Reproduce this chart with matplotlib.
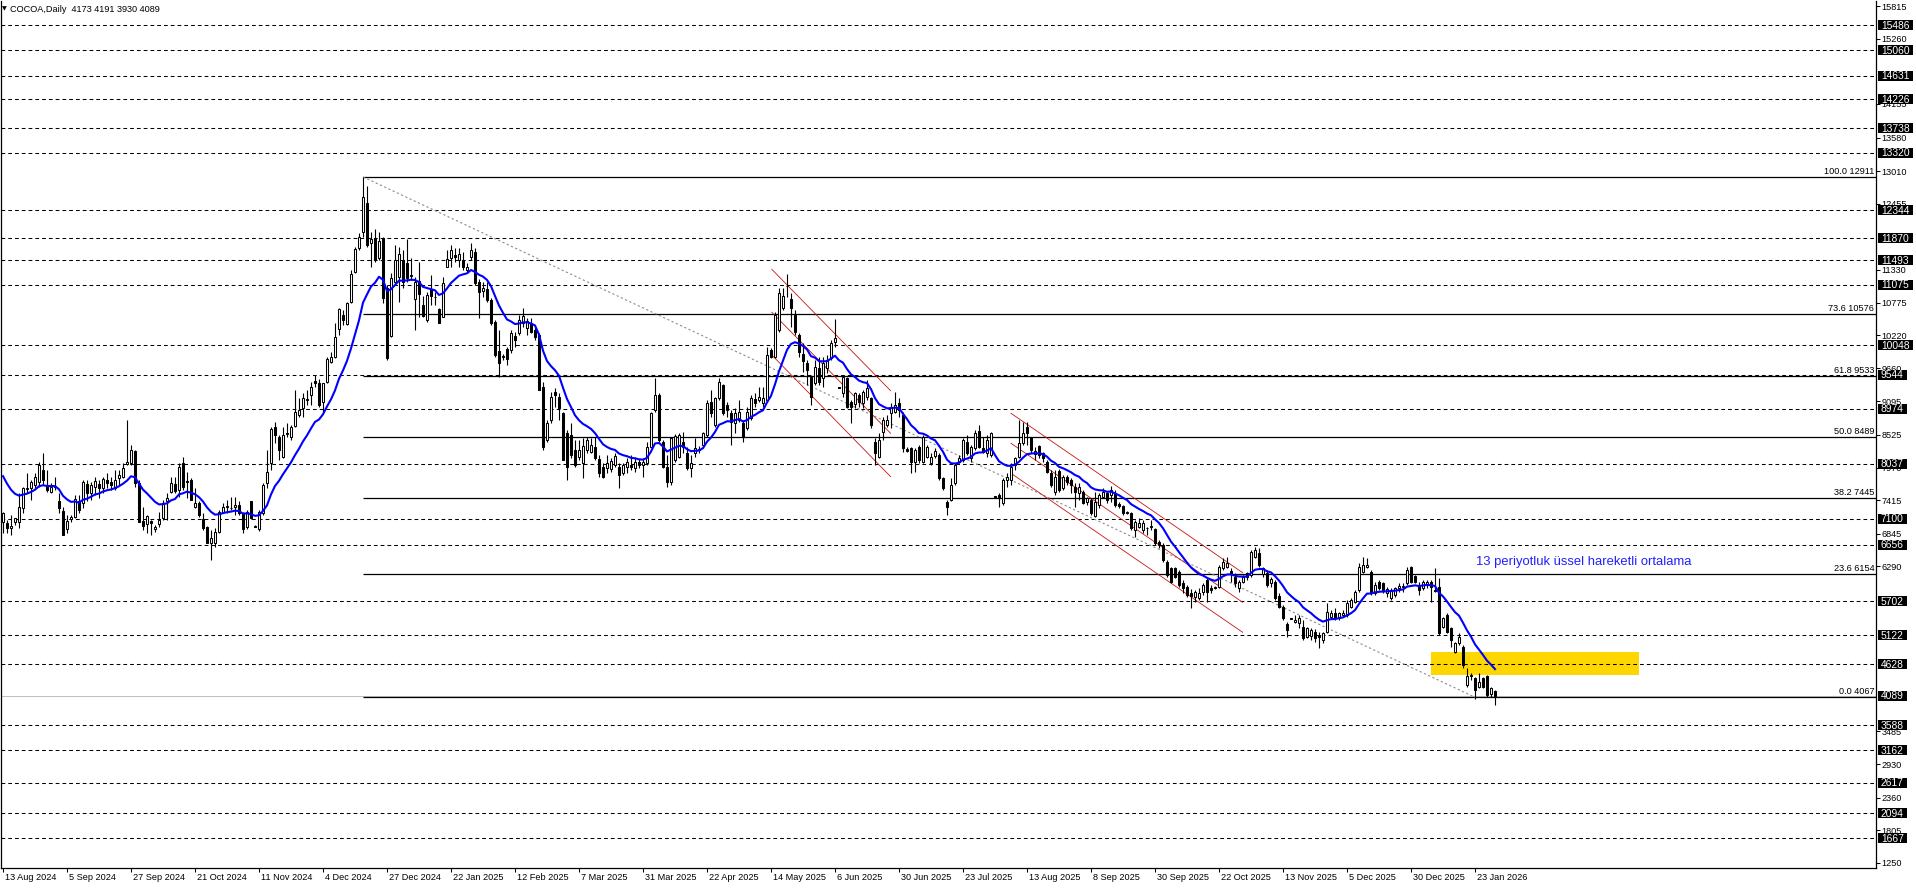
import matplotlib
matplotlib.use("Agg")
import matplotlib.pyplot as plt
import matplotlib.transforms as mtransforms
from matplotlib.patches import Rectangle
import numpy as np
import pandas as pd

plt.rcParams['font.family'] = ['Liberation Sans', 'DejaVu Sans']

# daily candles (bar 0 = 13 Aug 2024)
opens = [
    7052, 7023, 6950, 7052, 7052, 7278, 7610, 7618, 7675, 7731,
    7930, 7658, 7561, 7640, 7398, 7238, 6922, 7091, 7125, 7408,
    7363, 7692, 7544, 7646, 7692, 7618, 7760, 7731, 7618, 7788,
    7816, 8032, 8043, 8252, 7703, 7069, 7012, 7069, 6922, 7006,
    7108, 7398, 7561, 7692, 7590, 8043, 7740, 7760, 7306, 7363,
    7091, 6967, 6695, 6683, 6882, 7221, 7300, 7290, 7295, 7335,
    7204, 6967, 7398, 6975, 6922, 7193, 7703, 8043, 8666, 8496,
    8156, 8541, 8485, 8677, 8864, 8978, 9119, 9204, 9442, 9402,
    9091, 9430, 9770, 9855, 10320, 10563, 10411, 10790, 11300, 11696,
    11980, 12473, 11782, 11867, 11527, 11867, 11017, 10207, 11130, 11215,
    11499, 11453, 11240, 10830, 11147, 10734, 10479, 11000, 10870, 10660,
    10535, 11385, 11527, 11578, 11499, 11499, 11329, 11555, 11640, 11130,
    10977, 11000, 10819, 10451, 9952, 9860, 9980, 9969, 10207, 10252,
    10422, 10337, 10434, 10309, 10224, 9345, 8439, 8779, 9261, 9176,
    8892, 8552, 8524, 8269, 8156, 8043, 8269, 8241, 8326, 8111,
    7986, 7958, 7941, 8014, 7986, 7873, 7986, 8014, 7957, 8071,
    8014, 8042, 8314, 8949, 9204, 8411, 7986, 7731, 8099, 8156,
    8411, 8212, 7957, 8212, 8270, 8354, 8524, 9090, 8694, 9147,
    9374, 9034, 8903, 8722, 8779, 8733, 8637, 8807, 9130, 9119,
    9073, 9119, 9968, 9855, 10308, 10677, 11048, 10830, 10563, 10223,
    9900, 9753, 9515, 9402, 9657, 9487, 9657, 9827, 10110, 9340,
    9232, 9487, 9090, 9051, 9204, 9062, 9175, 9147, 8411, 8156,
    8581, 8694, 8892, 8920, 9062, 8864, 8280, 8297, 8071, 8326,
    8071, 8156, 8042, 8167, 8184, 7787, 7391, 7419, 7703, 8071,
    8099, 8411, 8128, 8298, 8598, 8298, 8213, 8184, 7480, 7505,
    7363, 7759, 7759, 8014, 8156, 8383, 8666, 8485, 8201, 8337,
    8213, 8071, 7873, 7561, 7918, 7618, 7816, 7759, 7646, 7533,
    7561, 7391, 7420, 7148, 7335, 7476, 7533, 7505, 7533, 7352,
    7318, 7221, 7193, 6910, 6966, 6910, 6945, 6955, 6921, 6711,
    6655, 6372, 6258, 6258, 6202, 6003, 5947, 5833, 5777, 5748,
    5862, 6060, 5918, 5947, 5947, 6258, 6287, 6219, 6117, 5918,
    6032, 6173, 6145, 6456, 6513, 6161, 6184, 6003, 6031, 5788,
    5595, 5312, 5412, 5351, 5334, 5266, 5096, 5108, 5181, 5125,
    5040, 5181, 5436, 5493, 5436, 5465, 5465, 5606, 5691, 5889,
    6201, 6286, 6201, 5833, 6031, 6003, 5833, 5748, 5804, 5918,
    5935, 6003, 6286, 6127, 5957, 5918, 5974, 6031, 5885, 5946,
    5266, 5465, 5238, 4841, 4983, 4926, 4275, 4428, 4388, 4247,
    4388, 4428, 4122, 4173,
]
highs = [
    7220, 7080, 7165, 7108, 7533, 7646, 7873, 7760, 7873, 8071,
    8213, 7930, 7703, 7816, 7533, 7306, 7165, 7165, 7505, 7505,
    7760, 7760, 7731, 7816, 7760, 7816, 7873, 7816, 7930, 7930,
    8043, 8779, 8355, 8269, 7760, 7306, 7165, 7080, 6995, 7221,
    7420, 7533, 7816, 7816, 8043, 8156, 7901, 7788, 7618, 7398,
    7193, 6978, 6910, 6939, 7249, 7363, 7420, 7476, 7476, 7398,
    7221, 7249, 7408, 6990, 7249, 7703, 8269, 8666, 8751, 8524,
    8666, 8723, 8694, 9289, 9159, 9233, 9289, 9430, 9544, 9470,
    9413, 9855, 9940, 10422, 10677, 10648, 10790, 11328, 11725, 11951,
    12911, 12756, 11980, 12020, 11980, 11884, 11074, 11272, 11753, 11725,
    11668, 11850, 11527, 11215, 11470, 10887, 10960, 11244, 10960, 10677,
    11204, 11668, 11753, 11697, 11697, 11640, 11442, 11782, 11697, 11170,
    11130, 11130, 10847, 10479, 10309, 9900, 10026, 10309, 10281, 10564,
    10677, 10507, 10507, 10366, 10252, 9430, 8779, 9261, 9317, 9232,
    8921, 8609, 8722, 8439, 8439, 8467, 8496, 8467, 8496, 8184,
    8043, 8184, 8128, 8212, 8043, 8043, 8127, 8184, 8156, 8110,
    8127, 8411, 8920, 9487, 9232, 8439, 8184, 8496, 8541, 8552,
    8581, 8326, 8184, 8467, 8340, 8581, 9119, 9289, 9175, 9487,
    9391, 9090, 8949, 8977, 9119, 8779, 9005, 9204, 9232, 9345,
    9345, 10025, 9997, 10620, 11017, 11017, 11260, 10932, 10648, 10252,
    10082, 9798, 9544, 9798, 9855, 9855, 9884, 10138, 10490, 9345,
    9544, 9515, 9119, 9260, 9232, 9289, 9459, 9175, 8467, 8552,
    8835, 8864, 9062, 9260, 9147, 8920, 8326, 8326, 8297, 8354,
    8524, 8354, 8212, 8297, 8212, 7816, 7419, 7787, 8043, 8184,
    8468, 8524, 8354, 8609, 8694, 8496, 8524, 8581, 7490, 7533,
    7788, 7873, 8043, 8156, 8779, 8751, 8751, 8496, 8326, 8354,
    8241, 8099, 7929, 7929, 7941, 7844, 7844, 7788, 7703, 7703,
    7589, 7476, 7448, 7561, 7533, 7618, 7561, 7658, 7589, 7391,
    7335, 7240, 7221, 7080, 7108, 7080, 6966, 7080, 6938, 6740,
    6683, 6400, 6287, 6287, 6230, 6060, 5975, 5901, 5890, 5918,
    6003, 6088, 5975, 5960, 6315, 6428, 6457, 6258, 6173, 6060,
    6145, 6202, 6570, 6626, 6598, 6286, 6229, 6105, 6060, 5833,
    5635, 5351, 5420, 5465, 5465, 5380, 5255, 5238, 5221, 5181,
    5181, 5663, 5550, 5578, 5521, 5550, 5719, 5748, 5889, 6343,
    6445, 6428, 6229, 6031, 6060, 6031, 5946, 5918, 5946, 6003,
    6003, 6286, 6297, 6144, 6031, 6060, 6060, 6060, 6258, 6088,
    5436, 5493, 5266, 5011, 5153, 4955, 4558, 4473, 4417, 4473,
    4417, 4445, 4247, 4191,
]
lows = [
    6853, 6853, 6825, 6995, 6939, 7193, 7533, 7420, 7618, 7646,
    7675, 7561, 7533, 7590, 7193, 6825, 6853, 7052, 7108, 7193,
    7278, 7398, 7420, 7505, 7448, 7533, 7618, 7590, 7590, 7675,
    7788, 8015, 8015, 7646, 7052, 6910, 6853, 6825, 6882, 6967,
    7080, 7080, 7533, 7533, 7476, 7590, 7448, 7420, 7278, 7136,
    6910, 6683, 6400, 6627, 6865, 7193, 7193, 7249, 7165, 7165,
    6865, 6922, 7091, 6960, 6899, 7165, 7618, 7930, 8383, 8100,
    8128, 8496, 8440, 8666, 8836, 8836, 9040, 9034, 9345, 9006,
    8892, 9402, 9742, 9827, 10224, 10394, 10394, 10773, 11283, 11668,
    11895, 11725, 11385, 11470, 11499, 10762, 9799, 10196, 11102, 10790,
    11017, 11130, 11159, 10309, 10535, 10535, 10451, 10734, 10734, 10422,
    10524, 11374, 11385, 11470, 11385, 11329, 11272, 11499, 11074, 10507,
    10875, 10790, 10394, 9856, 9516, 9800, 9714, 9912, 10026, 10224,
    10366, 10224, 10252, 10139, 9289, 8269, 8411, 8722, 9006, 8779,
    8099, 7759, 8128, 7986, 8099, 7788, 8212, 8212, 8099, 7816,
    7788, 7873, 7901, 7986, 7618, 7844, 7872, 7929, 7901, 7957,
    7816, 8014, 8297, 8920, 8411, 7957, 7646, 7674, 8071, 8127,
    8212, 7929, 7816, 8156, 8220, 8297, 8496, 8835, 8665, 9119,
    8864, 8835, 8354, 8552, 8750, 8411, 8609, 8779, 9005, 9090,
    9005, 9090, 9827, 9827, 10280, 10648, 10875, 10365, 10223, 9855,
    9600, 9374, 9034, 9374, 9374, 9345, 9572, 9798, 10025, 9325,
    9175, 8977, 8722, 8977, 9005, 8977, 9119, 8637, 8014, 8127,
    8439, 8665, 8637, 8892, 8835, 8241, 8241, 7872, 7901, 8042,
    8042, 8127, 8014, 8127, 7759, 7589, 7164, 7408, 7675, 8043,
    8071, 8184, 8071, 8269, 8298, 8213, 8156, 8156, 7470, 7306,
    7335, 7646, 7675, 7929, 8128, 8354, 8354, 8213, 8099, 8128,
    8071, 7873, 7646, 7505, 7561, 7589, 7675, 7533, 7306, 7420,
    7352, 7335, 7165, 7136, 7278, 7448, 7363, 7391, 7306, 7278,
    7165, 7180, 6910, 6796, 6938, 6853, 6825, 6910, 6655, 6598,
    6372, 6117, 6003, 6088, 5947, 5833, 5777, 5578, 5692, 5720,
    5805, 5692, 5833, 5905, 5918, 6230, 6258, 6032, 5947, 5862,
    6003, 6060, 6117, 6428, 6286, 6116, 5946, 5946, 5719, 5578,
    5380, 5096, 5395, 5323, 5238, 5040, 5068, 5040, 5011, 4898,
    4983, 5153, 5408, 5380, 5380, 5436, 5436, 5578, 5663, 5861,
    6173, 6258, 5804, 5804, 5889, 5833, 5776, 5719, 5776, 5861,
    5861, 5974, 6003, 6003, 5804, 5889, 5918, 5691, 5861, 5125,
    5238, 5153, 4926, 4813, 4955, 4558, 4247, 4360, 4031, 4218,
    4218, 4077, 4077, 3930,
]
closes = [
    7193, 6939, 6970, 7108, 7306, 7618, 7625, 7731, 7816, 8015,
    7760, 7590, 7646, 7652, 7278, 6825, 7063, 7136, 7431, 7249,
    7731, 7544, 7675, 7748, 7618, 7771, 7714, 7675, 7760, 7845,
    7958, 8060, 8269, 7703, 7052, 6978, 7148, 7023, 6967, 7080,
    7374, 7448, 7714, 7578, 7986, 7646, 7731, 7420, 7374, 7165,
    6950, 6695, 6768, 6882, 7221, 7306, 7312, 7278, 7335, 7193,
    6922, 7221, 7108, 6967, 7221, 7675, 7901, 8621, 8524, 8269,
    8524, 8564, 8666, 8921, 8949, 9159, 9130, 9345, 9413, 9034,
    9402, 9810, 9855, 10195, 10660, 10478, 10762, 11255, 11679, 11895,
    12575, 11753, 11850, 11499, 11827, 10847, 9827, 11187, 11499, 11601,
    11130, 11187, 11227, 11130, 10921, 10547, 10904, 10887, 10864, 10434,
    11102, 11510, 11668, 11544, 11601, 11385, 11374, 11668, 11102, 10960,
    11028, 10819, 10422, 9884, 9754, 9856, 9810, 10252, 10139, 10479,
    10547, 10462, 10281, 10196, 9289, 8326, 8722, 9176, 9204, 8977,
    8099, 7986, 8184, 8014, 8269, 8337, 8439, 8354, 8128, 7873,
    7816, 8043, 8088, 8167, 7844, 8014, 8059, 7974, 8071, 8014,
    8071, 8314, 8892, 9204, 8439, 7974, 7731, 8467, 8507, 8524,
    8326, 7957, 8042, 8297, 8280, 8552, 9062, 8903, 9147, 9430,
    8892, 8949, 8750, 8892, 8920, 8496, 8920, 9158, 9073, 9175,
    9147, 9884, 9855, 10563, 10932, 10886, 11058, 10677, 10280, 9940,
    9787, 9629, 9175, 9685, 9430, 9753, 9798, 10082, 10167, 9330,
    9504, 9005, 9005, 9232, 9090, 9260, 9317, 8694, 8224, 8439,
    8779, 8779, 9005, 9034, 8949, 8297, 8258, 8071, 8269, 8099,
    8496, 8326, 8156, 8258, 7787, 7617, 7306, 7674, 8014, 8128,
    8439, 8213, 8326, 8564, 8326, 8241, 8439, 8553, 7476, 7448,
    7759, 7816, 7986, 8128, 8383, 8553, 8553, 8269, 8258, 8184,
    8128, 7901, 7675, 7816, 7589, 7816, 7731, 7675, 7561, 7646,
    7363, 7448, 7193, 7391, 7505, 7561, 7420, 7589, 7335, 7318,
    7193, 7193, 6938, 7051, 7023, 7023, 6935, 6978, 6683, 6655,
    6400, 6145, 6032, 6117, 5975, 5918, 5805, 5788, 5862, 5845,
    5975, 5862, 5890, 5918, 6287, 6372, 6343, 6162, 6003, 6032,
    6117, 6117, 6542, 6569, 6314, 6258, 5974, 6071, 5748, 5595,
    5408, 5210, 5405, 5380, 5408, 5068, 5238, 5210, 5068, 5085,
    5153, 5521, 5504, 5408, 5493, 5504, 5663, 5719, 5861, 6286,
    6314, 6314, 5833, 5974, 5918, 5889, 5901, 5889, 5918, 5957,
    5957, 6229, 6031, 6031, 5889, 6031, 6031, 5935, 5880, 5153,
    5408, 5181, 5040, 4983, 5096, 4615, 4428, 4445, 4190, 4332,
    4247, 4105, 4218, 4089,
]

# EMA value at the first visible bar (history left of the window)
ema_seed = 7930

date_labels = ['13 Aug 2024', '5 Sep 2024', '27 Sep 2024', '21 Oct 2024', '11 Nov 2024',
               '4 Dec 2024', '27 Dec 2024', '22 Jan 2025', '12 Feb 2025', '7 Mar 2025',
               '31 Mar 2025', '22 Apr 2025', '14 May 2025', '6 Jun 2025', '30 Jun 2025',
               '23 Jul 2025', '13 Aug 2025', '8 Sep 2025', '30 Sep 2025', '22 Oct 2025',
               '13 Nov 2025', '5 Dec 2025', '30 Dec 2025', '23 Jan 2026']

# scale labels that are visible (the rest sit fully under the black boxes)
price_ticks = [15815, 15260, 14155, 13580, 13010, 12455, 11330, 10775,
               10220, 9660, 9095, 8525, 7970, 7415, 6845, 6290,
               3485, 2930, 2360, 1805, 1250]

# horizontal levels (dashed) and the bid price
level_prices = [15486, 15060, 14631, 14226, 13738, 13320, 12344, 11870, 11493, 11075,
                10048, 9544, 8974, 8037, 7100, 6656, 5702, 5122, 4628, 3588, 3162,
                2617, 2094, 1667]
bid_price = 4089

fib_ratios = [100.0, 73.6, 61.8, 50.0, 38.2, 23.6, 0.0]
fib_prices = [12911, 10576, 9533, 8489, 7445, 6154, 4067]
fib_start_bar = 90
fib_end_bar = 368

# channels: (bar0, price0, bar1, price1)
channel_may = [(192.2, 11340, 221.9, 9277), (192.2, 10610, 221.9, 8553),
               (192.2, 9884, 221.9, 7816)]
channel_aug = [(252.0, 8893, 309.9, 6184), (252.0, 8383, 309.9, 5681),
               (252.0, 7873, 309.9, 5171)]

zone_bars = (357, 409)
zone_prices = (4445, 4836)

title = 'COCOA,Daily  4173 4191 3930 4089'
note = '13 periyotluk üssel hareketli ortalama'

# ---------------------------------------------------------------
W, H = 1916, 888
PX = 14565 / 857          # price units per pixel
fig = plt.figure(figsize=(W / 100, H / 100), dpi=100)
ax = fig.add_axes([1 / W, 20 / H, 1875 / W, 867 / H])
ax.set_xlim(-0.5, 468.25)
ax.set_ylim(1165, 15900)

n = len(closes)
x = np.arange(n)
o = np.array(opens, dtype=float)
c = np.array(closes, dtype=float)
hi = np.maximum.reduce([np.array(highs, float), o, c])
lo = np.minimum.reduce([np.array(lows, float), o, c])
up = c >= o

# guide lines
ax.hlines(level_prices, -0.5, 468.25, colors='black', linestyles=(0, (3.6, 2.9)),
          linewidth=0.75, zorder=1)
ax.axhline(bid_price, color='#c0c0c0', linewidth=0.75, zorder=0.9)
ax.add_patch(Rectangle((zone_bars[0], zone_prices[0]), zone_bars[1] - zone_bars[0],
                       zone_prices[1] - zone_prices[0], fc='#ffd700', ec='none', zorder=0.8))
ax.hlines(fib_prices, fib_start_bar, 468.25, colors='black', linewidth=0.9, zorder=1.5)
ax.plot([fib_start_bar, fib_end_bar], [fib_prices[0], fib_prices[-1]], color='#8c8c8c',
        linewidth=0.8, linestyle=(0, (2, 2.2)), zorder=1.6)
for b0, p0, b1, p1 in channel_may + channel_aug:
    ax.plot([b0, b1], [p0, p1], color='#c81414', linewidth=0.6, zorder=2)

trans_r = mtransforms.blended_transform_factory(ax.transAxes, ax.transData)
for r, p in zip(fib_ratios, fib_prices):
    ax.annotate(f'{r:.1f} {p}', xy=(1, p), xycoords=trans_r, xytext=(-1.2, 0.8),
                textcoords='offset points', ha='right', va='bottom', fontsize=6.6)

# candles
ax.vlines(x, lo, hi, colors='black', linewidth=0.8, zorder=3)
ax.bar(x, np.abs(c - o), bottom=np.minimum(o, c), width=0.6,
       color=np.where(up, 'white', 'black'), edgecolor='black', linewidth=0.75, zorder=4)

# 13 EMA
ema = pd.Series([ema_seed] + closes, dtype=float).ewm(span=13, adjust=False).mean().iloc[1:]
ax.plot(x, ema.values, color='#0000ff', linewidth=1.5, zorder=5)

ax.text(368.3, 6315, note, color='#2020ff', fontsize=9.4, va='baseline', ha='left', zorder=6)

# axes look
ax.spines['top'].set_visible(False)
for s in ['left', 'right', 'bottom']:
    ax.spines[s].set_linewidth(0.9)
ax.yaxis.tick_right()
ax.set_yticks(price_ticks)
ax.set_yticklabels([str(t) for t in price_ticks])
ax.tick_params(axis='y', length=3, width=0.75, pad=1, labelsize=6.6)
ax.set_xticks(np.arange(0, 16 * len(date_labels), 16))
ax.set_xticklabels(date_labels, ha='left')
ax.tick_params(axis='x', length=3, width=0.75, pad=0.5, labelsize=6.6)
shift = mtransforms.ScaledTranslation(2 / 100, 0, fig.dpi_scale_trans)
for lab in ax.get_xticklabels():
    lab.set_transform(lab.get_transform() + shift)

# black price boxes on the right scale
for p in level_prices + [bid_price]:
    s = str(p)
    w = 6.0 * len(s) + 5
    ax.add_patch(Rectangle((1 + 2.3 / 1875, p - 5 * PX), w / 1875, 10 * PX, transform=trans_r,
                           fc='black', ec='none', clip_on=False, zorder=6))
    ax.text(1 + 4.8 / 1875, p - 0.5 * PX, s, transform=trans_r, color='white', fontsize=7.4,
            va='center', ha='left', clip_on=False, zorder=7)

fig.text(2 / W, 1 - 9 / H, '▼', fontsize=4.5, family='DejaVu Sans', va='center', ha='left')
fig.text(9.5 / W, 1 - 9.5 / H, title, fontsize=6.6, va='center', ha='left')

fig.savefig('out.png', dpi=100)
